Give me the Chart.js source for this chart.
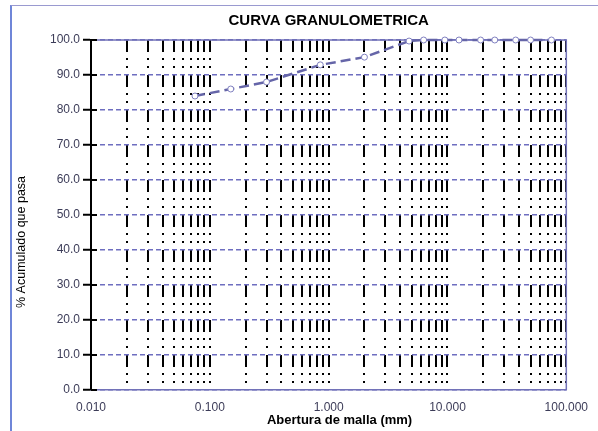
<!DOCTYPE html>
<html>
<head>
<meta charset="utf-8">
<script src="https://cdn.jsdelivr.net/npm/chart.js@4.4.1/dist/chart.umd.min.js"></script>
<style>
  body { margin: 0; background: #fff; }
  #frame { position: absolute; left: 10px; top: 5px; width: 600px; height: 440px;
           border-left: 2px solid #6f86d8; border-top: 1px solid #9a9ad0; }
  #wrap { position: absolute; left: 0; top: 0; width: 598px; height: 431px; }
</style>
</head>
<body>
<div id="frame"></div>
<div id="wrap"><canvas id="curva"></canvas></div>
<script>
// Curva granulometrica - abertura de malla (mm) vs % que pasa

const sizes = [0.075, 0.15, 0.3, 0.85, 2.0, 4.75, 6.3, 9.5, 12.5, 19, 25, 37.5, 50, 75];
const passing = [84.0, 86.0, 88.0, 92.9, 95.1, 99.7, 100, 100, 100, 100, 100, 100, 100, 100];
const decades = [0.01, 0.1, 1, 10, 100];
const yTicks = [0, 10, 20, 30, 40, 50, 60, 70, 80, 90, 100];
const xTitle = 'Abertura de malla (mm)';
const yTitle = '% Acumulado que pasa';

// lineas verticales en 1..9 de cada decada
function gridValues() {
    const vals = [];
    for (let i = 0; i < decades.length - 1; i++) {
        for (let k = 1; k <= 9; k++) vals.push(+(decades[i] * k).toPrecision(6));
    }
    vals.push(decades[decades.length - 1]);
    return vals;
}

function isDecade(v) {
    return decades.some(d => Math.abs(d - v) < d * 1e-6);
}

const FONT = '"Liberation Sans", Arial, sans-serif';

// marco superior/derecho del area, cruces negras del eje Y y titulos de ejes
const framePlugin = {
    id: 'framePlugin',
    beforeDatasetsDraw(chart) {
        const { ctx, chartArea: a } = chart;
        ctx.save();
        ctx.strokeStyle = '#7272b8';
        ctx.lineWidth = 1.5;
        ctx.beginPath();
        ctx.moveTo(a.left, a.top);
        ctx.lineTo(a.right, a.top);
        ctx.lineTo(a.right, a.bottom);
        ctx.stroke();
        ctx.restore();
    },
    afterDraw(chart) {
        const { ctx, chartArea: a } = chart;
        const y = chart.scales.y;
        ctx.save();
        ctx.strokeStyle = '#000';
        ctx.lineWidth = 2;
        yTicks.forEach(v => {
            const py = y.getPixelForValue(v);
            ctx.beginPath();
            ctx.moveTo(a.left, py);
            ctx.lineTo(a.left + 6, py);
            ctx.stroke();
        });

        ctx.fillStyle = '#000';
        ctx.textAlign = 'center';
        ctx.textBaseline = 'middle';
        ctx.font = 'bold 13px ' + FONT;
        ctx.fillText(xTitle, a.left + a.width * 0.523, a.bottom + 30);

        ctx.font = '12.5px ' + FONT;
        ctx.translate(a.left - 69, a.top + a.height * 0.577);
        ctx.rotate(-Math.PI / 2);
        ctx.fillText(yTitle, 0, 0);
        ctx.restore();
    }
};

Chart.defaults.font.family = FONT;

new Chart(document.getElementById('curva'), {
    type: 'line',
    data: {
        datasets: [{
            label: 'Curva',
            data: sizes.map((s, i) => ({ x: s, y: passing[i] })),
            borderColor: '#6565a8',
            borderWidth: 2.5,
            borderDash: [10, 5],
            pointRadius: 3,
            pointBackgroundColor: '#fff',
            pointBorderColor: '#8080c0',
            pointBorderWidth: 1,
            tension: 0,
            clip: false
        }]
    },
    options: {
        responsive: true,
        maintainAspectRatio: false,
        animation: false,
        layout: { padding: { left: 12, right: 30, top: 0, bottom: 0 } },
        plugins: {
            legend: { display: false },
            tooltip: { enabled: false },
            title: {
                display: true,
                text: 'CURVA GRANULOMETRICA',
                fullSize: false,
                color: '#000',
                font: { size: 15, weight: 'bold' },
                padding: { top: 12, bottom: 10 }
            }
        },
        scales: {
            x: {
                type: 'logarithmic',
                min: 0.01,
                max: 100,
                afterBuildTicks(scale) {
                    scale.ticks = gridValues().map(v => ({ value: v }));
                },
                afterFit(scale) { scale.height = 41; },
                ticks: {
                    autoSkip: false,
                    maxRotation: 0,
                    padding: 10,
                    color: '#3c3c58',
                    font: { size: 12 },
                    callback: v => isDecade(v) ? v.toFixed(3) : ''
                },
                grid: {
                    color: '#000',
                    lineWidth: 2,
                    drawTicks: false
                },
                border: { color: '#7272b8', width: 1.5, dash: [12, 6, 2, 6, 2, 7] }
            },
            y: {
                min: 0,
                max: 100,
                afterBuildTicks(scale) {
                    scale.ticks = yTicks.map(v => ({ value: v }));
                },
                afterFit(scale) { scale.width = 79; },
                ticks: {
                    padding: 3,
                    color: '#3c3c58',
                    font: { size: 12 },
                    callback: v => v.toFixed(1)
                },
                grid: {
                    color: '#6e6ec0',
                    lineWidth: 1.5,
                    tickColor: '#000',
                    tickWidth: 2,
                    tickLength: 8
                },
                border: { color: '#000', width: 2, dash: [5, 3] }
            }
        }
    },
    plugins: [framePlugin]
});
</script>
</body>
</html>
